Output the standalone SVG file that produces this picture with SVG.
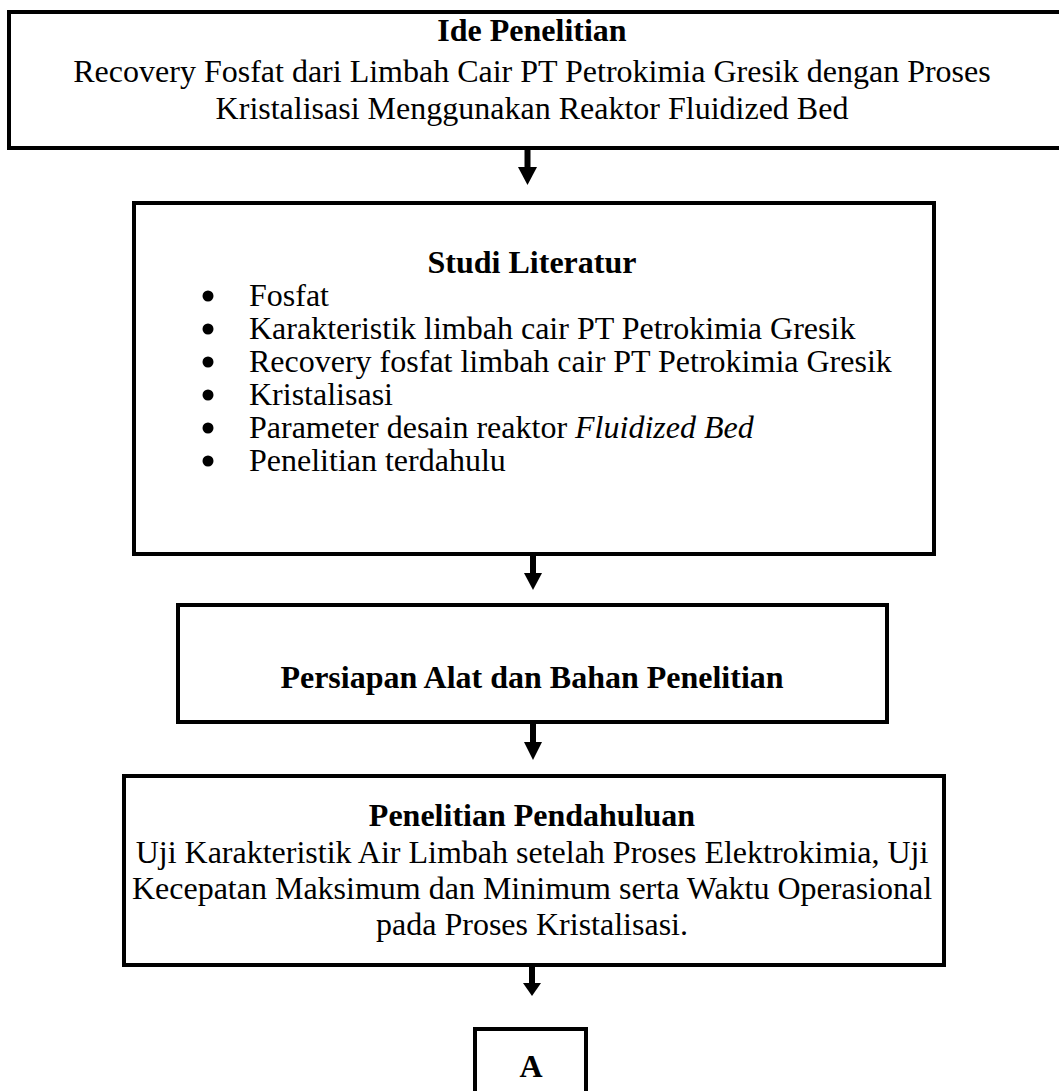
<svg xmlns="http://www.w3.org/2000/svg" width="1059" height="1091" viewBox="0 0 1059 1091">
<defs>
<style>
.box{fill:#fff;stroke:#000;stroke-width:4}
.t{font-family:"Liberation Serif","Times New Roman",serif;font-size:32px;fill:#000}
.b{font-weight:bold}
.c{text-anchor:middle}
.sh{stroke:#000;stroke-width:6}
.hd{fill:#000}
</style>
</defs>
<rect width="1059" height="1091" fill="#fff"/>
<g id="n1">
<rect class="box" x="9" y="12" width="1070" height="136"/>
<text class="t b c" x="532" y="41">Ide Penelitian</text>
<text class="t c" x="532" y="82">Recovery Fosfat dari Limbah Cair PT Petrokimia Gresik dengan Proses</text>
<text class="t c" x="532" y="119">Kristalisasi Menggunakan Reaktor Fluidized Bed</text>
</g>
<g id="n2">
<rect class="box" x="134" y="203" width="800" height="351"/>
<text class="t b c" x="532" y="273">Studi Literatur</text>
<g class="t">
<circle cx="208" cy="296" r="5.5"/><text x="249" y="306">Fosfat</text>
<circle cx="208" cy="329" r="5.5"/><text x="249" y="339">Karakteristik limbah cair PT Petrokimia Gresik</text>
<circle cx="208" cy="362" r="5.5"/><text x="249" y="372">Recovery fosfat limbah cair PT Petrokimia Gresik</text>
<circle cx="208" cy="395" r="5.5"/><text x="249" y="405">Kristalisasi</text>
<circle cx="208" cy="428" r="5.5"/><text x="249" y="438">Parameter desain reaktor <tspan font-style="italic">Fluidized Bed</tspan></text>
<circle cx="208" cy="461" r="5.5"/><text x="249" y="471">Penelitian terdahulu</text>
</g>
</g>
<g id="n3">
<rect class="box" x="178" y="605" width="709" height="117"/>
<text class="t b c" x="532" y="688">Persiapan Alat dan Bahan Penelitian</text>
</g>
<g id="n4">
<rect class="box" x="124" y="776" width="820" height="189"/>
<text class="t b c" x="532" y="826">Penelitian Pendahuluan</text>
<text class="t c" x="532" y="863">Uji Karakteristik Air Limbah setelah Proses Elektrokimia, Uji</text>
<text class="t c" x="532" y="899">Kecepatan Maksimum dan Minimum serta Waktu Operasional</text>
<text class="t c" x="532" y="935">pada Proses Kristalisasi.</text>
</g>
<g id="nA">
<rect class="box" x="475" y="1029" width="111" height="80"/>
<text class="t b c" x="531" y="1077">A</text>
</g>
<g id="connectors">
<line class="sh" x1="527.5" y1="150" x2="527.5" y2="170"/><polygon class="hd" points="518,167 537,167 527.5,185"/>
<line class="sh" x1="533" y1="556" x2="533" y2="576"/><polygon class="hd" points="524,573 542,573 533,590"/>
<line class="sh" x1="533" y1="724" x2="533" y2="745"/><polygon class="hd" points="524,742 542,742 533,760"/>
<line class="sh" x1="532" y1="967" x2="532" y2="986"/><polygon class="hd" points="523,983 541,983 532,996"/>
</g>
</svg>
